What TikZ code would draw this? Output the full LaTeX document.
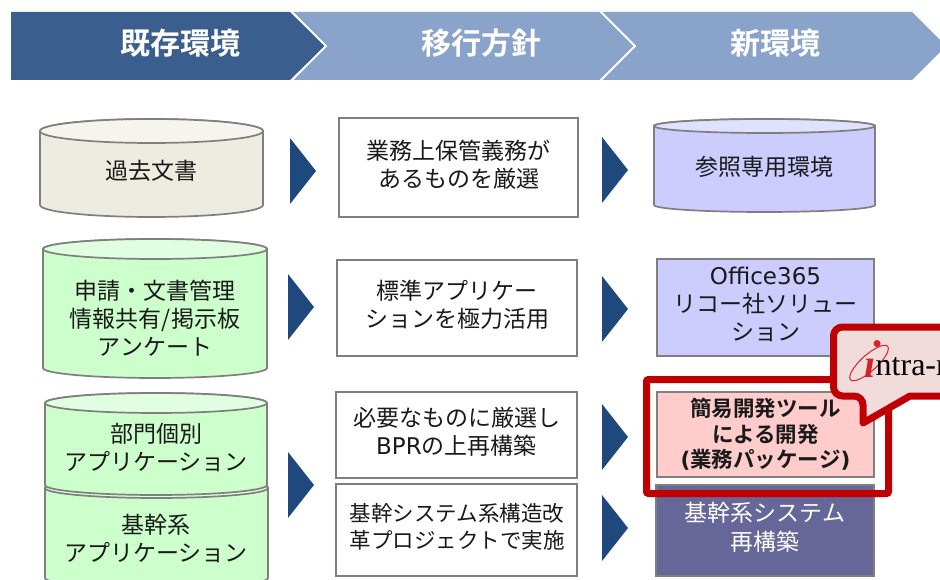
\documentclass[tikz,border=0pt]{standalone}
\usepackage{fontspec}
\setmainfont{DejaVu Sans}
\newfontfamily\cj{Noto Sans CJK JP}
\newfontfamily\cjb{Noto Sans CJK JP Bold}
\newfontfamily\lat{DejaVu Sans}
\newfontfamily\latb{DejaVu Sans Bold}
\newfontfamily\logofont{Liberation Serif}
\newfontfamily\logoital{Liberation Serif Bold Italic}
\definecolor{hdark}{HTML}{3A5F8E}
\definecolor{hlight}{HTML}{8AA3CB}
\definecolor{arrowblue}{HTML}{1F497D}
\definecolor{edgegray}{HTML}{7F7F7F}
\definecolor{beige}{HTML}{EEECE1}
\definecolor{beigetop}{HTML}{F5F4EE}
\definecolor{mint}{HTML}{CCFFCC}
\definecolor{minttop}{HTML}{E0FFE0}
\definecolor{lav}{HTML}{CCCCFF}
\definecolor{lavtop}{HTML}{E0E0FF}
\definecolor{pinkbox}{HTML}{FFCCCC}
\definecolor{purplebox}{HTML}{666699}
\definecolor{redframe}{HTML}{C00000}
\definecolor{callfill}{HTML}{F2DCDB}
\definecolor{inktext}{HTML}{1A1A1A}
\definecolor{logored}{HTML}{D8202A}
\tikzset{
  hdr/.style={draw=none,text=white,font=\cjb\fontsize{30}{34}\selectfont,anchor=center,inner sep=0pt},
  txt/.style={font=\cj\fontsize{23}{28}\selectfont,text=inktext,align=center,anchor=center,inner sep=0pt},
  boxline/.style={draw=edgegray,line width=1.4pt,outer sep=0pt},
  tri/.style={fill=arrowblue,draw=none},
  cyledge/.style={draw=edgegray,line width=1.7pt}
}
% name, x1, x2, ytop, ybot, ry, fill, topfill
\newcommand{\cylshape}[8]{%
  \pgfmathsetmacro{\rx}{(#3-#2)/2}%
  \pgfmathsetmacro{\cx}{(#3+#2)/2}%
  \pgfmathsetmacro{\ya}{#4+#6}%
  \pgfmathsetmacro{\yb}{#5-#6}%
  \path[cyledge,fill=#7] (#2,-\ya) -- (#2,-\yb) arc[start angle=180,end angle=360,x radius=\rx,y radius=#6] -- (#3,-\ya) arc[start angle=0,end angle=180,x radius=\rx,y radius=#6] -- cycle;
  \path[cyledge,fill=#8] (\cx,-\ya) ellipse[x radius=\rx,y radius=#6];
  \coordinate (#1) at (\cx,-\ya);
}
\newcommand{\bx}[7]{\node[boxline,fill=#6,minimum width=#3 pt-#2 pt,minimum height=#5 pt-#4 pt,inner sep=0pt,anchor=north west] (#1) at (#2,-#4) {}; \node[txt,yshift=3pt] at (#1.center) {#7};}
\begin{document}
\begin{tikzpicture}[x=1pt,y=1pt]
\useasboundingbox (0,0) rectangle (940,-580);
\clip (0,0) rectangle (940,-580);
% header
\path[fill=hlight] (600,-12) -- (912,-12) -- (946,-46) -- (912,-80) -- (600,-80) -- (634,-46) -- cycle;
\path[fill=hlight] (292,-12) -- (600,-12) -- (634,-46) -- (600,-80) -- (292,-80) -- (326,-46) -- cycle;
\draw[white,line width=1.8pt] (600,-11) -- (635,-46) -- (600,-81);
\path[fill=hdark] (11,-12) -- (290,-12) -- (325,-46) -- (290,-80) -- (11,-80) -- cycle;
\draw[white,line width=1.8pt] (291,-11) -- (326,-46) -- (291,-81);
\node[hdr] (h1) at (180,-43) {既存環境};
\node[hdr] (h2) at (481,-43) {移行方針};
\node[hdr] (h3) at (775,-43) {新環境};
% cylinders
\cylshape{c4}{45}{268}{478}{588}{10}{mint}{minttop}
\cylshape{c3}{45}{267}{393}{495}{10}{mint}{minttop}
\cylshape{c2}{43}{267}{239}{378}{10}{mint}{minttop}
\cylshape{c1}{40}{263}{119}{217}{12}{beige}{beigetop}
\cylshape{c5}{654}{875}{119}{212}{7}{lav}{lavtop}
\node[txt] (t1) at (151.5,-171) {過去文書};
\node[txt] (t2) at (155,-318) {申請・文書管理\\情報共有/掲示板\\アンケート};
\node[txt] (t3) at (156,-448) {部門個別\\アプリケーション};
\node[txt] (t4) at (156,-538) {基幹系\\アプリケーション};
\node[txt] (t5) at (764,-167) {参照専用環境};
% middle boxes
\bx{m1}{339}{578}{118}{217}{white}{業務上保管義務が\\あるものを厳選}
\bx{m2}{337}{577}{260}{356}{white}{標準アプリケー\\ションを極力活用}
\bx{m3}{336}{577}{392}{478}{white}{必要なものに厳選し\\{\lat BPR}の上再構築}
\node[boxline,fill=white,minimum width=241pt,minimum height=92pt,inner sep=0pt,anchor=north west] (m4) at (336,-484) {};
\node[txt,font=\cj\fontsize{21.5}{27}\selectfont] (m4t) at (457,-526.5) {基幹システム系構造改\\革プロジェクトで実施};
% right boxes
\bx{r1}{657}{874}{259}{356}{lav}{{\lat Office365}\\リコー社ソリュー\\ション}
\node[boxline,fill=pinkbox,minimum width=217pt,minimum height=85pt,inner sep=0pt,anchor=north west] (r2) at (657,-392) {};
\node[font=\cjb\fontsize{21.5}{25.5}\selectfont,text=inktext,align=center,inner sep=0pt] (r2t) at (r2.center) {簡易開発ツール\\による開発\\{\latb (}業務パッケージ{\latb )}};
\node[boxline,fill=purplebox,minimum width=218pt,minimum height=91pt,inner sep=0pt,anchor=north west] (r3) at (656,-485) {};
\node[txt,text=white,font=\cj\fontsize{23}{29}\selectfont] (r3t) at (765,-527) {基幹系システム\\再構築};
% triangles
\path[tri] (290,-138) -- (316,-171) -- (290,-204) -- cycle;
\path[tri] (288,-274) -- (314,-307) -- (288,-340) -- cycle;
\path[tri] (288,-452) -- (314,-485) -- (288,-518) -- cycle;
\path[tri] (602,-137) -- (628,-170) -- (602,-203) -- cycle;
\path[tri] (602,-276) -- (628,-309) -- (602,-342) -- cycle;
\path[tri] (602,-404) -- (628,-437) -- (602,-470) -- cycle;
\path[tri] (602,-495) -- (628,-528) -- (602,-561) -- cycle;
% red frame
\node[draw=redframe,line width=7pt,rounded corners=2pt,outer sep=0pt,minimum width=242pt,minimum height=114pt,inner sep=0pt,anchor=north west] (frame) at (646.5,-379.5) {};
% callout
\draw[draw=redframe,fill=callfill,line width=7pt,line join=round,rounded corners=9pt]
  (960,-327) -- (833.5,-327) -- (833.5,-396) -- (863,-396) [sharp corners] -- (863,-423) -- (910,-396) -- (960,-396);
% logo
\draw[logored,line width=1pt,rotate around={42:(869,-363)}] (869,-363) ellipse[x radius=25,y radius=8];
\fill[logored] (877,-343.5) circle[radius=3.5];
\node[font=\logoital\fontsize{40}{40}\selectfont,text=logored,anchor=base,inner sep=0pt] (logoi) at (870,-377) {ı};
\node[font=\logofont\fontsize{32}{32}\selectfont,text=black,anchor=base west,inner sep=0pt] (logot) at (875.5,-375.5) {ntra-mart};
\end{tikzpicture}
\end{document}
